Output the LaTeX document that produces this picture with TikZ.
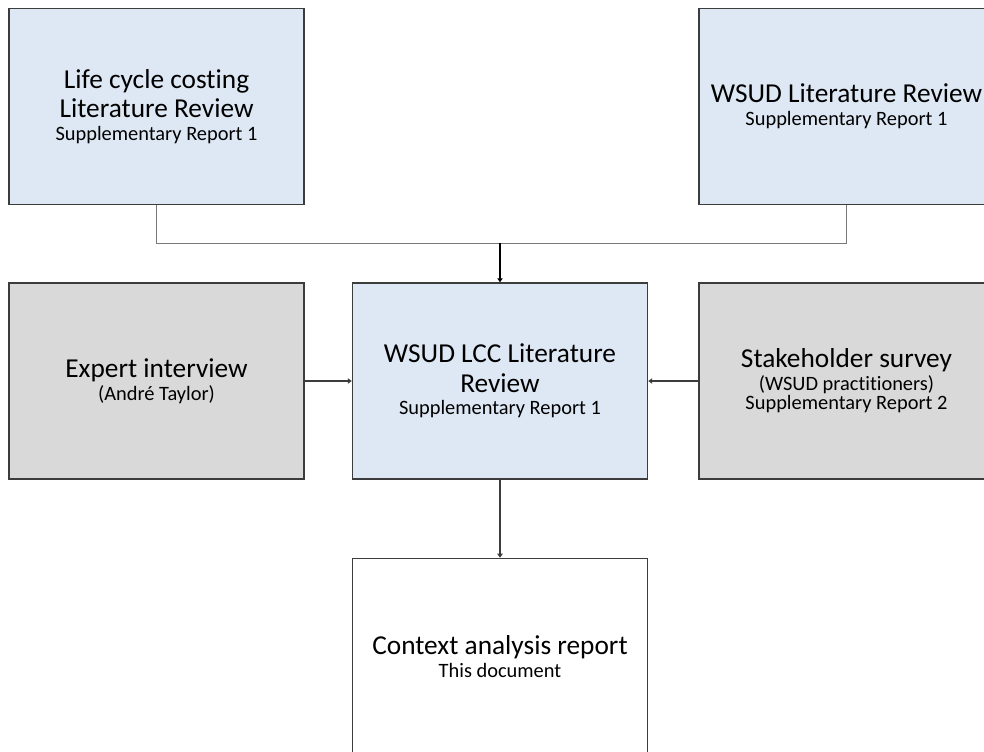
\documentclass[tikz,border=0pt]{standalone}
\usepackage{fontspec}
\setmainfont{Carlito}[Ligatures={NoCommon}]
\usetikzlibrary{arrows.meta, positioning}
\definecolor{revblue}{RGB}{222, 232, 244}
\definecolor{srcgray}{RGB}{217, 217, 217}
\definecolor{edgegray}{RGB}{60, 60, 60}
\definecolor{linkgray}{RGB}{120, 120, 120}
\newcommand{\subline}[1]{{\fontsize{15.3}{13.5}\selectfont #1}}

\begin{document}
\begin{tikzpicture}[x=0.75pt, y=-0.75pt,
    font=\fontsize{20.5}{22}\selectfont,
    block/.style={draw=edgegray, line width=1.1pt, align=center,
                  minimum width=221.25pt, minimum height=147pt, inner sep=0pt},
    review/.style={block, fill=revblue},
    source/.style={block, fill=srcgray},
    link/.style={-{Triangle[length=3pt, width=4pt]}, edgegray, line width=0.8pt}]
    \clip (0,0) rectangle (984,751);
    \useasboundingbox (0,0) rectangle (984,751);
    \node[review] (rev) at (500,381)
      {WSUD LCC Literature\\ Review\\[-5pt] \subline{Supplementary Report 1}};
    \node[source, left=35.25pt of rev] (expert)
      {Expert interview\\[-5pt] \subline{(André Taylor)}};
    \node[source, right=37.5pt of rev] (survey)
      {Stakeholder survey\\[-5pt] \subline{(WSUD practitioners)}\\[-7.5pt]
       \subline{Supplementary Report 2}};
    \node[review, above=57.75pt of expert] (lcc)
      {Life cycle costing\\ Literature Review\\[-5pt] \subline{Supplementary Report 1}};
    \node[review, above=57.75pt of survey] (wsud)
      {WSUD Literature Review\\[-5pt] \subline{Supplementary Report 1}};
    \node[block, fill=white, below=58.5pt of rev] (ctx)
      {Context analysis report\\[-5pt] \subline{This document}};
    \coordinate[above=29.25pt of rev.north] (join);
    \draw[linkgray, line width=1.1pt] (lcc.south) |- (join) -| (wsud.south);
    \draw[link, line width=1.3pt, black] (join) -- (rev.north);
    \draw[link] (expert) -- (rev);
    \draw[link] (survey) -- (rev);
    \draw[link, line width=1.1pt] (rev) -- (ctx);
\end{tikzpicture}
\end{document}
